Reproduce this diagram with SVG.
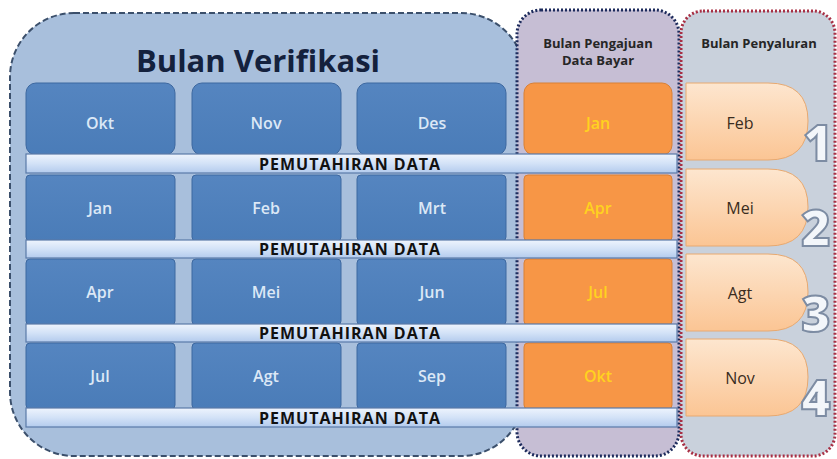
<svg xmlns="http://www.w3.org/2000/svg" width="837" height="459" viewBox="0 0 837 459">
<defs>
<linearGradient id="barG" x1="0" y1="0" x2="0" y2="1">
<stop offset="0" stop-color="#eef4fd"/><stop offset="0.5" stop-color="#d3e2f7"/><stop offset="1" stop-color="#b3cbed"/>
</linearGradient>
<linearGradient id="pillG" x1="0" y1="0" x2="0" y2="1">
<stop offset="0" stop-color="#fde6cf"/><stop offset="1" stop-color="#fbc594"/>
</linearGradient>
<linearGradient id="blueG" x1="0" y1="0" x2="0" y2="1">
<stop offset="0" stop-color="#5585c0"/><stop offset="1" stop-color="#4a7cb8"/>
</linearGradient>
</defs>
<style>
.lbl{font-family:"Open Sans","Liberation Sans",sans-serif;text-anchor:middle}
.box{fill:url(#blueG);stroke:#3d68a0;stroke-width:1}
.bt{font-size:16px;font-weight:600;fill:#dce8f6}
.or{fill:#f79646;stroke:#d98035;stroke-width:1}
.ot{font-size:16px;fill:#ffd21f;font-weight:600}
.bar{fill:url(#barG);stroke:#5a7aa8;stroke-width:1.2}
.barT{font-size:16px;font-weight:700;fill:#111;letter-spacing:1px}
.pill{fill:url(#pillG);stroke:#e8a970;stroke-width:1}
.pt{font-size:16px;font-weight:500;fill:#3a2c20}
.num{font-family:"Open Sans","Liberation Sans",sans-serif;font-size:50px;font-weight:800;fill:#f3f6fa;stroke:#7d8ca3;stroke-width:2;text-anchor:middle}
.hd{font-size:13px;font-weight:700;fill:#262626}
</style>
<rect width="837" height="459" fill="#ffffff"/>
<g id="panel-verifikasi">
<rect x="10" y="13" width="515" height="443" rx="64" fill="#a8bfdc" stroke="#3b4f6b" stroke-width="2" stroke-dasharray="6 3"/>
<text class="lbl" x="258" y="72" font-size="31" font-weight="700" fill="#14213d">Bulan Verifikasi</text>
</g>
<g id="panel-pengajuan">
<rect x="517" y="10" width="162" height="446" rx="24" fill="#c6bed4" stroke="#1d2b5c" stroke-width="3" stroke-dasharray="2 2"/>
<text class="lbl hd" x="598" y="48">Bulan Pengajuan</text>
<text class="lbl hd" x="598" y="65">Data Bayar</text>
</g>
<g id="panel-penyaluran">
<rect x="681" y="11" width="154" height="445" rx="22" fill="#c9d1dc" stroke="#a83045" stroke-width="3" stroke-dasharray="2 2"/>
<text class="lbl hd" x="759" y="48">Bulan Penyaluran</text>
</g>
<g id="row1">
<rect class="box" x="26" y="83" width="149" height="72" rx="10"/><text class="lbl bt" x="100" y="129">Okt</text>
<rect class="box" x="192" y="83" width="149" height="72" rx="10"/><text class="lbl bt" x="266" y="129">Nov</text>
<rect class="box" x="357" y="83" width="149" height="72" rx="10"/><text class="lbl bt" x="432" y="129">Des</text>
<rect class="or" x="524" y="83" width="148" height="72" rx="10"/><text class="lbl ot" x="598" y="129">Jan</text>
</g>
<g id="row2">
<rect class="box" x="26" y="175" width="149" height="66" rx="4"/><text class="lbl bt" x="100" y="214">Jan</text>
<rect class="box" x="192" y="175" width="149" height="66" rx="4"/><text class="lbl bt" x="266" y="214">Feb</text>
<rect class="box" x="357" y="175" width="149" height="66" rx="4"/><text class="lbl bt" x="432" y="214">Mrt</text>
<rect class="or" x="524" y="175" width="148" height="66" rx="4"/><text class="lbl ot" x="598" y="214">Apr</text>
</g>
<g id="row3">
<rect class="box" x="26" y="259" width="149" height="66" rx="4"/><text class="lbl bt" x="100" y="298">Apr</text>
<rect class="box" x="192" y="259" width="149" height="66" rx="4"/><text class="lbl bt" x="266" y="298">Mei</text>
<rect class="box" x="357" y="259" width="149" height="66" rx="4"/><text class="lbl bt" x="432" y="298">Jun</text>
<rect class="or" x="524" y="259" width="148" height="66" rx="4"/><text class="lbl ot" x="598" y="298">Jul</text>
</g>
<g id="row4">
<rect class="box" x="26" y="343" width="149" height="66" rx="4"/><text class="lbl bt" x="100" y="382">Jul</text>
<rect class="box" x="192" y="343" width="149" height="66" rx="4"/><text class="lbl bt" x="266" y="382">Agt</text>
<rect class="box" x="357" y="343" width="149" height="66" rx="4"/><text class="lbl bt" x="432" y="382">Sep</text>
<rect class="or" x="524" y="343" width="148" height="66" rx="4"/><text class="lbl ot" x="598" y="382">Okt</text>
</g>
<g id="bars">
<rect class="bar" x="26" y="154" width="651" height="19"/><text class="lbl barT" x="350" y="169.5">PEMUTAHIRAN DATA</text>
<rect class="bar" x="26" y="240" width="651" height="18"/><text class="lbl barT" x="350" y="255">PEMUTAHIRAN DATA</text>
<rect class="bar" x="26" y="324" width="651" height="18"/><text class="lbl barT" x="350" y="339">PEMUTAHIRAN DATA</text>
<rect class="bar" x="26" y="408" width="651" height="19"/><text class="lbl barT" x="350" y="423.5">PEMUTAHIRAN DATA</text>
</g>
<g id="pill1">
<path class="pill" d="M686,83 H768 Q808,83 808,121 Q808,160 768,160 H686 Z"/>
<text class="lbl pt" x="740" y="129">Feb</text>
<text class="num" x="818" y="161">1</text>
</g>
<g id="pill2">
<path class="pill" d="M686,169 H768 Q808,169 808,207 Q808,246 768,246 H686 Z"/>
<text class="lbl pt" x="740" y="214">Mei</text>
<text class="num" x="816" y="246">2</text>
</g>
<g id="pill3">
<path class="pill" d="M686,254 H768 Q808,254 808,292 Q808,331 768,331 H686 Z"/>
<text class="lbl pt" x="740" y="299">Agt</text>
<text class="num" x="816" y="332">3</text>
</g>
<g id="pill4">
<path class="pill" d="M686,339 H768 Q808,339 808,377 Q808,416 768,416 H686 Z"/>
<text class="lbl pt" x="740" y="384">Nov</text>
<text class="num" x="816" y="416">4</text>
</g>
</svg>
